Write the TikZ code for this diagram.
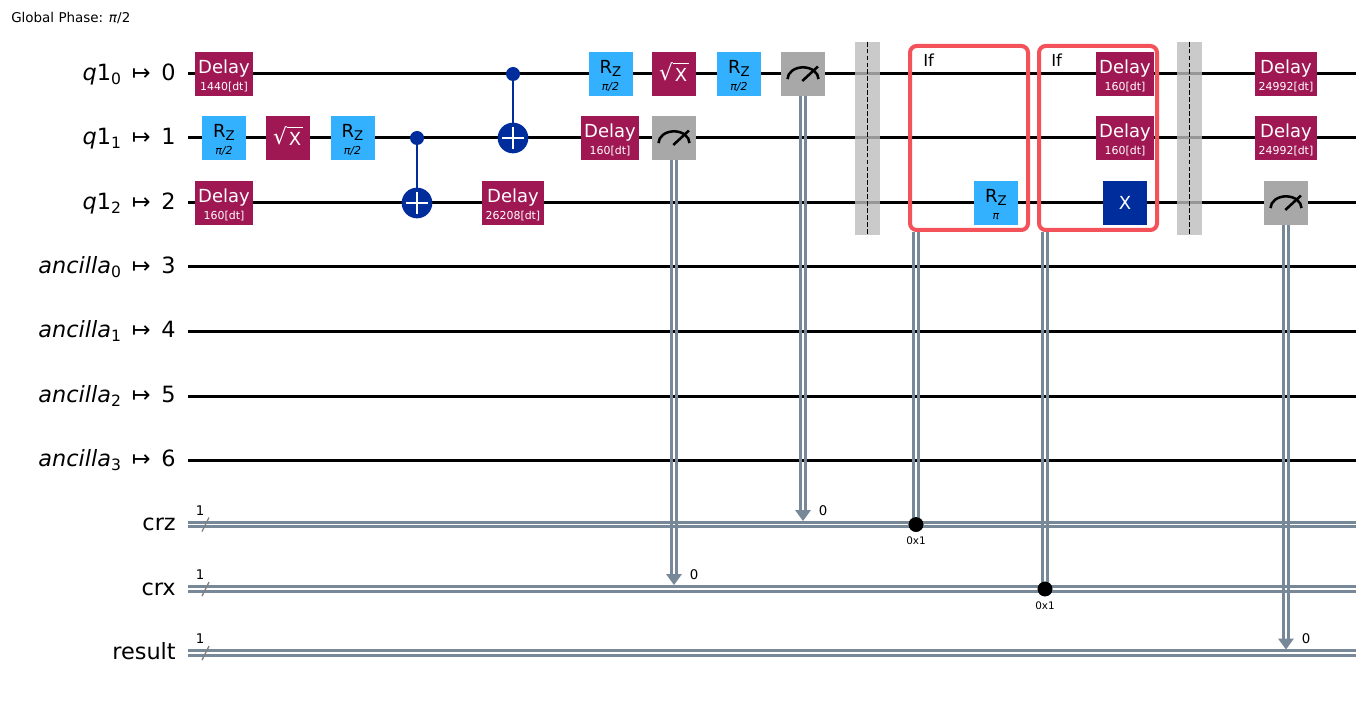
\documentclass[tikz,border=0pt]{standalone}
\usepackage{fontspec}
\setmainfont{DejaVu Sans}
\usetikzlibrary{calc}
\definecolor{dlycol}{HTML}{9F1853}
\definecolor{rzcol}{HTML}{33B1FF}
\definecolor{xcol}{HTML}{002D9C}
\definecolor{meascol}{HTML}{A8A8A8}
\definecolor{barcol}{HTML}{BDBDBD}
\definecolor{boxcol}{HTML}{F4525A}
\definecolor{ccol}{HTML}{778899}
\newcommand{\fs}[1]{\fontsize{#1}{#1}\selectfont}
\newcommand{\sbs}[1]{\raisebox{-0.17em}{\fontsize{11.7}{12}\selectfont #1}}
\newcommand{\zsub}{\raisebox{-0.13em}{\fontsize{10}{12}\selectfont Z}}
\newcommand{\rootx}{\raisebox{1.2pt}{\fs{16.5}√}\rlap{\raisebox{13.4pt}{\rule{12pt}{0.9pt}}}\kern1.2ptX\kern1.3pt}
\newcommand{\dlygate}[5]{% name x y width sub
  \node[gatebox,fill=dlycol,minimum width=#4*0.75pt] (#1) at (#2,#3) {};
  \node[gatetop,text=white] (#1t) at ([yshift=3.5pt]#1.center) {Delay};
  \node[gatesub,text=white] (#1s) at ([yshift=-10pt]#1.center) {#5};}
\newcommand{\rzgate}[4]{% name x y sub
  \node[gatebox,fill=rzcol] (#1) at (#2,#3) {};
  \node[gatetop,text=black] (#1t) at ([yshift=3.5pt]#1.center) {R\zsub};
  \node[gatesub,text=black] (#1s) at ([yshift=-10pt]#1.center) {\textit{#4}};}
\newcommand{\sxgate}[3]{%
  \node[gatebox,fill=dlycol] (#1) at (#2,#3) {};
  \node[anchor=base,inner sep=0pt,text=white,font=\fs{13.5}] (#1t) at ([yshift=-5.8pt]#1.center) {\rootx};}
\newcommand{\measgate}[3]{%
  \node[gatebox,fill=meascol] (#1) at (#2,#3) {};
  \draw[meter] ([shift={(-11.6pt,-3.8pt)}]#1.center) arc[start angle=180,end angle=0,x radius=11.6pt,y radius=8.8pt];
  \draw[meter] ([shift={(-0.5pt,-5.2pt)}]#1.center) -- ([shift={(11.2pt,5.6pt)}]#1.center);}
\newcommand{\cxgate}[4]{% name x ctrl target
  \node[ctrldot] (#1c) at (#2,#3) {};
  \node[target] (#1t) at (#2,#4) {};
  \draw[cxline] (#1c) -- (#1t);
  \draw[plusline] (#1t.north) -- (#1t.south);
  \draw[plusline] (#1t.west) -- (#1t.east);}
\newcommand{\hdouble}[2]{%
  \draw[cline] ([yshift=1.55pt]#1) -- ([yshift=1.55pt]#2);
  \draw[cline] ([yshift=-1.55pt]#1) -- ([yshift=-1.55pt]#2);}
\newcommand{\vdouble}[2]{%
  \draw[cline] ([xshift=-1.55pt]#1) -- ([xshift=-1.55pt]#2);
  \draw[cline] ([xshift=1.55pt]#1) -- ([xshift=1.55pt]#2);}
\tikzset{
  x=0.75pt,y=-0.75pt,
  qwire/.style={black,line width=2.25pt},
  cline/.style={draw=ccol,line width=2.2pt},
  gatebox/.style={rectangle,inner sep=0pt,outer sep=0pt,minimum width=33pt,minimum height=33pt},
  gatetop/.style={inner sep=0pt,font=\fs{13.5},text height=9.5pt,text depth=2.5pt},
  gatesub/.style={inner sep=0pt,font=\fs{8.2},text height=6pt,text depth=1.5pt},
  meter/.style={black,line width=1.9pt},
  ctrldot/.style={circle,fill=xcol,inner sep=0pt,minimum size=10.5pt},
  target/.style={circle,fill=xcol,inner sep=0pt,outer sep=0pt,minimum size=23pt},
  cxline/.style={draw=xcol,line width=2.2pt},
  plusline/.style={draw=white,line width=2.2pt,shorten <=3.5pt,shorten >=3.5pt},
  barrierband/.style={rectangle,fill=barcol,fill opacity=0.8,inner sep=0pt,minimum width=18.75pt,minimum height=144.75pt},
  barrierline/.style={black,line width=1pt,dash pattern=on 3.6pt off 1.6pt},
  ifbox/.style={rectangle,draw=boxcol,line width=3pt,rounded corners=5pt,inner sep=0pt,minimum height=138pt,minimum width=88.5pt},
  wirelabel/.style={anchor=base east,inner sep=0pt,font=\fs{16.8},text=black},
  iftext/.style={anchor=base west,inner sep=0pt,font=\fs{12.4}},
  bitnum/.style={inner sep=0pt,font=\fs{10}},
  cond/.style={inner sep=0pt,font=\fs{7.8}},
  cdot/.style={circle,fill=black,inner sep=0pt,minimum size=11pt},
  slashline/.style={draw=gray,line width=1pt},
  tip/.style={fill=ccol},
}
\begin{document}
\begin{tikzpicture}
\useasboundingbox[fill=white] (0,0) rectangle (1370,702);
\node[anchor=base west,inner sep=0pt,font=\fs{10.1}] (phase) at (11,22.5) {Global Phase: \textit{π}/2};
% wire ends and labels
\foreach \n/\y/\t in {0/74/{\textit{q}1\sbs{0}\, ↦\, 0},1/138/{\textit{q}1\sbs{1}\, ↦\, 1},2/203/{\textit{q}1\sbs{2}\, ↦\, 2},3/267/{\textit{ancilla}\sbs{0}\, ↦\, 3},4/331/{\textit{ancilla}\sbs{1}\, ↦\, 4},5/396/{\textit{ancilla}\sbs{2}\, ↦\, 5},6/460/{\textit{ancilla}\sbs{3}\, ↦\, 6}}{
  \coordinate (wl\n) at (188,\y);
  \coordinate (wr\n) at (1356,\y);
  \node[wirelabel] (lab\n) at (176,\y+6.3) {\t};
  \draw[qwire] (wl\n) -- (wr\n);
}
\foreach \n/\y/\t in {7/524.5/crz,8/589/crx,9/653/result}{
  \coordinate (wl\n) at (188,\y);
  \coordinate (wr\n) at (1356,\y);
  \node[wirelabel] (lab\n) at (176,\y+6.4) {\t};
  \hdouble{wl\n}{wr\n}
  \coordinate (sa\n) at (202,\y+7);
  \coordinate (sb\n) at (209,\y-7);
  \draw[slashline] (sa\n) -- (sb\n);
  \node[bitnum] (one\n) at (200,\y-14) {1};
}
% gates
\dlygate{d1}{224}{74}{58}{1440[dt]}
\dlygate{d2}{224}{203}{58}{160[dt]}
\rzgate{r1}{224}{138}{π/2}
\sxgate{s1}{288}{138}
\rzgate{r2}{352.5}{138}{π/2}
\cxgate{cxa}{417}{138}{203}
\dlygate{d3}{513}{203}{62}{26208[dt]}
\cxgate{cxb}{513}{74}{138}
\rzgate{r3}{610.5}{74}{π/2}
\dlygate{d4}{610}{138}{58}{160[dt]}
\sxgate{s2}{674}{74}
\measgate{m1}{674}{138}
\rzgate{r4}{739}{74}{π/2}
\measgate{m2}{803}{74}
% measure lines
\coordinate (a1) at (674,585);
\coordinate (a2) at (803,521);
\coordinate (a3) at (1286,649.5);
\coordinate (e1) at (674,575);
\coordinate (e2) at (803,511);
\coordinate (e3) at (1286,639);
\vdouble{m1.south}{e1}
\vdouble{m2.south}{e2}
\fill[tip] (a1) -- ++(-8,-11) -- ++(16,0) -- cycle;
\fill[tip] (a2) -- ++(-8,-11) -- ++(16,0) -- cycle;
\node[bitnum] (n1) at (694,575) {0};
\node[bitnum] (n2) at (823,510.5) {0};
% barriers
\node[barrierband] (b1) at (867.5,138.5) {};
\draw[barrierline] (b1.north) -- (b1.south);
\node[barrierband] (b2) at (1189.5,138.5) {};
\draw[barrierline] (b2.north) -- (b2.south);
% if blocks
\node[ifbox] (if1) at (969,138) {};
\node[ifbox] (if2) at (1098,138) {};
\node[iftext] (if1t) at (923,66.5) {If};
\node[iftext] (if2t) at (1051,66.5) {If};
\rzgate{r5}{996}{203}{π}
\dlygate{d5}{1125}{74}{58}{160[dt]}
\dlygate{d6}{1125}{138}{58}{160[dt]}
\node[gatebox,fill=xcol,text=white,font=\fs{13.5}] (x1) at (1125,203) {X};
\coordinate (if1b) at (916,232);
\coordinate (if2b) at (1045,232);
\node[cdot] (c1) at (916,524.5) {};
\node[cdot] (c2) at (1045,589) {};
\vdouble{if1b}{c1.center}
\vdouble{if2b}{c2.center}
\node[cdot] (c1top) at (c1) {};
\node[cdot] (c2top) at (c2) {};
\node[cond] (c1t) at (916,541) {0x1};
\node[cond] (c2t) at (1045,606) {0x1};
% final
\dlygate{d7}{1286}{74}{62}{24992[dt]}
\dlygate{d8}{1286}{138}{62}{24992[dt]}
\measgate{m3}{1286}{203}
\vdouble{m3.south}{e3}
\fill[tip] (a3) -- ++(-8,-11) -- ++(16,0) -- cycle;
\node[bitnum] (n3) at (1306,639) {0};
\end{tikzpicture}
\end{document}
